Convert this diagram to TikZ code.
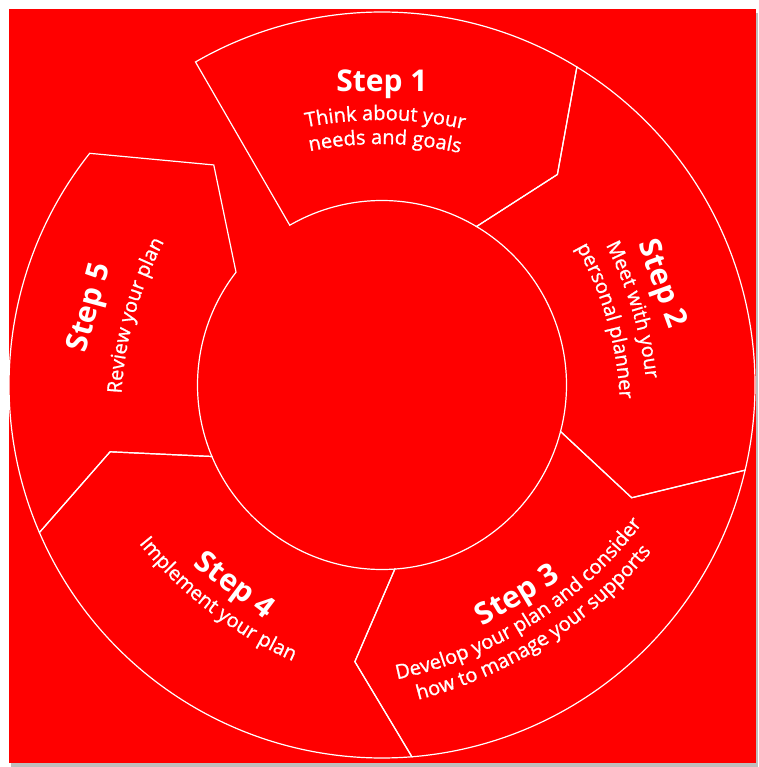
\documentclass[tikz,border=0pt]{standalone}
\usepackage{fontspec}
\setmainfont{Open Sans}
\newfontfamily\bodyfamily{Open Sans}[FakeBold=1]
\usetikzlibrary{decorations.text}

\definecolor{cyclered}{RGB}{255,0,0}
\definecolor{shadowgray}{RGB}{190,190,190}

\newcommand{\bodyfont}{\bodyfamily\fontsize{20}{24}\selectfont}
% #1 angle, #2 radius, #3 1 = letters point out, -1 = letters point in, #4 text
\newcommand{\curvedline}[4]{%
  \pgfmathsetmacro{\arcbend}{1.45*#2}%
  \pgfmathsetmacro{\arcshift}{#2-\arcbend}%
  \pgfmathsetmacro{\arcfrom}{#1+#3*40}%
  \pgfmathsetmacro{\arcto}{#1-#3*40}%
  \path[decorate, decoration={text along path, text align=center, text color=white,
      text={|\bodyfont|#4}}]
    ([shift={(#1:\arcshift)}]\arcfrom:\arcbend) arc[start angle=\arcfrom, end angle=\arcto, radius=\arcbend];
}

\begin{document}
\begin{tikzpicture}[x=1pt, y=1pt,
  segment/.style={draw=white, line width=1.2pt, line join=miter},
  steptitle/.style={text=white, font=\bfseries\fontsize{30}{36}\selectfont, anchor=base, inner sep=0pt}
]
\def\ro{373}
\def\ri{184.5}
\useasboundingbox (-382,-382) rectangle (376,385);
\fill[shadowgray] (-371,-382) rectangle (376,372);
\fill[cyclered] (-373,-378) rectangle (374,376);

% segments, clockwise from the top
\draw[segment] (120:\ro) arc[start angle=120, end angle=58.5, radius=\ro] -- (50.2:274)
  -- (59.2:\ri) arc[start angle=59.2, end angle=120, radius=\ri] -- cycle;
\draw[segment] (58.5:\ro) arc[start angle=58.5, end angle=-13.2, radius=\ro] -- (-24.3:274)
  -- (-14.6:\ri) arc[start angle=-14.6, end angle=59.2, radius=\ri] -- (50.2:274) -- cycle;
\draw[segment] (-13.2:\ro) arc[start angle=-13.2, end angle=-85.4, radius=\ro] -- (-95.6:278)
  -- (-86:\ri) arc[start angle=-86, end angle=-14.6, radius=\ri] -- (-24.3:274) -- cycle;
\draw[segment] (-85.4:\ro) arc[start angle=-85.4, end angle=-156.7, radius=\ro] -- (-166.2:280)
  -- (-157.2:\ri) arc[start angle=-157.2, end angle=-86, radius=\ri] -- (-95.6:278) -- cycle;
\draw[segment] (-156.7:\ro) arc[start angle=-156.7, end angle=-218.4, radius=\ro] -- (-232.6:277)
  -- (-217.7:\ri) arc[start angle=-217.7, end angle=-157.2, radius=\ri] -- (-166.2:280) -- cycle;

% titles
\node[steptitle] (step1) at (90:293) {Step 1};
\node[steptitle, rotate=-70] (step2) at (19.9:289) {Step 2};
\node[steptitle, rotate=31] (step3) at (-57.3:259) {Step 3};
\node[steptitle, rotate=-37] (step4) at (-126.4:258) {Step 4};
\node[steptitle, rotate=75] (step5) at (165.2:294) {Step 5};

% text lines
\curvedline{89.3}{265}{1}{Think about your}
\curvedline{89.3}{241}{1}{needs and goals}
\curvedline{16.7}{261}{1}{Meet with your}
\curvedline{16}{234}{1}{personal planner}
\curvedline{-57.6}{283}{-1}{Develop your plan and consider}
\curvedline{-57.6}{307}{-1}{how to manage your supports}
\curvedline{-127.4}{285}{-1}{Implement your plan}
\curvedline{164.3}{257}{1}{Review your plan}

\end{tikzpicture}
\end{document}
